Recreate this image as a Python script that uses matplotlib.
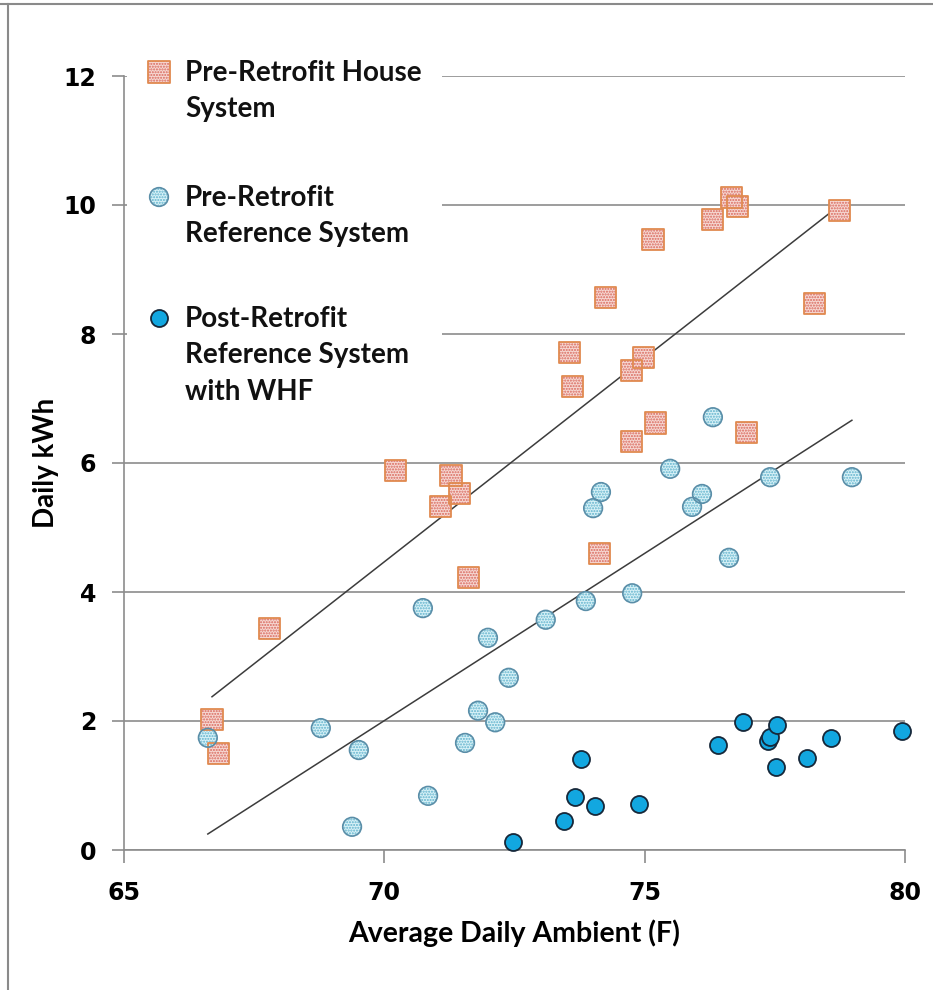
import numpy as np
import matplotlib
matplotlib.use("Agg")
import matplotlib.pyplot as plt
from matplotlib.lines import Line2D
from matplotlib.patches import Rectangle

# Pre-retrofit house system: daily ambient (F) vs daily kWh
house_temp = [78.75, 76.66, 76.79, 76.31, 75.16, 74.24, 78.27, 73.56, 73.62, 74.97,
              74.74, 74.74, 75.20, 76.96, 70.22, 71.28, 71.45, 71.07, 74.14, 71.61,
              67.80, 66.69, 66.82]
house_kwh = [9.92, 10.12, 9.97, 9.78, 9.46, 8.56, 8.48, 7.71, 7.19, 7.63,
             7.44, 6.34, 6.62, 6.47, 5.88, 5.81, 5.52, 5.32, 4.60, 4.23,
             3.44, 2.02, 1.49]

# Pre-retrofit reference system
ref_temp = [66.61, 68.78, 69.51, 69.38, 70.74, 70.84, 71.99, 72.39, 71.80, 72.13,
            71.55, 73.10, 75.49, 74.16, 74.01, 74.76, 73.87, 76.31, 77.41, 78.98,
            76.10, 75.91, 76.62]
ref_kwh = [1.74, 1.89, 1.55, 0.36, 3.75, 0.84, 3.29, 2.67, 2.16, 1.98,
           1.66, 3.57, 5.91, 5.55, 5.30, 3.98, 3.86, 6.71, 5.78, 5.78,
           5.52, 5.32, 4.53]

# Post-retrofit reference system with whole-house fan
whf_temp = [72.47, 73.45, 73.66, 73.78, 74.04, 74.89, 76.41, 76.89, 77.37, 77.41,
            77.54, 77.52, 78.12, 78.58, 79.94]
whf_kwh = [0.12, 0.45, 0.82, 1.41, 0.68, 0.71, 1.63, 1.98, 1.69, 1.75,
           1.94, 1.29, 1.43, 1.74, 1.84]

series_labels = ["Pre-Retrofit House\nSystem",
                 "Pre-Retrofit\nReference System",
                 "Post-Retrofit\nReference System\nwith WHF"]
x_ticks = [65, 70, 75, 80]
y_ticks = [0, 2, 4, 6, 8, 10, 12]
x_label = "Average Daily Ambient (F)"
y_label = "Daily kWh"

W, H = 933, 990
fig = plt.figure(figsize=(W / 100, H / 100), dpi=100)
ax = fig.add_axes([124 / W, 140 / H, 781 / W, 774 / H])

grid_col = "#8c8c8c"
label_font = dict(family=["Lato", "DejaVu Sans"], weight="bold")

# marker styles for the three series
sq_style = dict(marker="s", s=230)
lc_style = dict(marker="o", s=180)
dc_style = dict(marker="o", s=150)


def draw_house(xs, ys, **kw):
    ax.scatter(xs, ys, facecolor="#f6d8d2", edgecolor="#d9675c", hatch="......",
               linewidth=0, zorder=3, clip_on=False, **sq_style, **kw)
    ax.scatter(xs, ys, facecolor="none", edgecolor="#e08a50",
               linewidth=1.3, zorder=3.1, clip_on=False, **sq_style, **kw)


def draw_ref(xs, ys, **kw):
    ax.scatter(xs, ys, facecolor="#d8f1f7", edgecolor="#5fb2cc", hatch="......",
               linewidth=0, zorder=3, clip_on=False, **lc_style, **kw)
    ax.scatter(xs, ys, facecolor="none", edgecolor="#5a8ea8",
               linewidth=1.2, zorder=3.1, clip_on=False, **lc_style, **kw)


def draw_whf(xs, ys, **kw):
    ax.scatter(xs, ys, facecolor="#12a7e0", edgecolor="#16283a",
               linewidth=1.3, zorder=3.2, clip_on=False, **dc_style, **kw)


draw_house(house_temp, house_kwh)
draw_ref(ref_temp, ref_kwh)
draw_whf(whf_temp, whf_kwh)

# linear trendlines over each series' temperature range
for xs, ys in ((house_temp, house_kwh), (ref_temp, ref_kwh)):
    xs = np.asarray(xs)
    k, b = np.polyfit(xs, np.asarray(ys), 1)
    xr = np.array([xs.min(), xs.max()])
    ax.plot(xr, k * xr + b, color="#3c3c3c", linewidth=1.1, zorder=2.8)

ax.set_xlim(x_ticks[0], x_ticks[-1])
ax.set_ylim(y_ticks[0], y_ticks[-1])
ax.set_xticks(x_ticks)
ax.set_yticks(y_ticks)
ax.set_axisbelow(True)
ax.yaxis.grid(True, color=grid_col, linewidth=1.2)
ax.xaxis.grid(False)

for side in ("top", "right"):
    ax.spines[side].set_visible(False)
for side in ("left", "bottom"):
    ax.spines[side].set_color(grid_col)
    ax.spines[side].set_linewidth(1.2)

ax.tick_params(axis="both", direction="out", length=9, width=1.2, color=grid_col,
               labelsize=17, pad=11)
for lab in ax.get_xticklabels() + ax.get_yticklabels():
    lab.set_fontweight("bold")
    lab.set_family("DejaVu Sans")
ax.tick_params(axis="x", pad=13)

ax.set_xlabel(x_label, fontsize=20.5, labelpad=11, **label_font)
ax.set_ylabel(y_label, fontsize=20, labelpad=3, **label_font)

# legend panel with white background
ax.add_patch(Rectangle((0.004, 0.55), 0.403, 0.48, transform=ax.transAxes,
                       facecolor="white", edgecolor="none", zorder=1.5, clip_on=False))
key_x = (159 - 124) / 781
text_x = (185 - 124) / 781
key_y = [(850 - 72) / 774, (850 - 197) / 774, (850 - 318) / 774]
drawers = [draw_house, draw_ref, draw_whf]
for fn, ky, lab in zip(drawers, key_y, series_labels):
    fn([key_x], [ky], transform=ax.transAxes)
    ax.text(text_x, ky + 0.015, lab, transform=ax.transAxes, ha="left", va="top",
            fontsize=20, linespacing=1.48, color="#111111", zorder=4, **label_font)

# outer frame edges
fig.add_artist(Line2D([0, 1], [1 - 4 / H, 1 - 4 / H], color="#8a8a8a", linewidth=1.5))
fig.add_artist(Line2D([8 / W, 8 / W], [0, 1 - 4 / H], color="#8a8a8a", linewidth=1.5))

fig.savefig("out.png", dpi=100, facecolor="white")
